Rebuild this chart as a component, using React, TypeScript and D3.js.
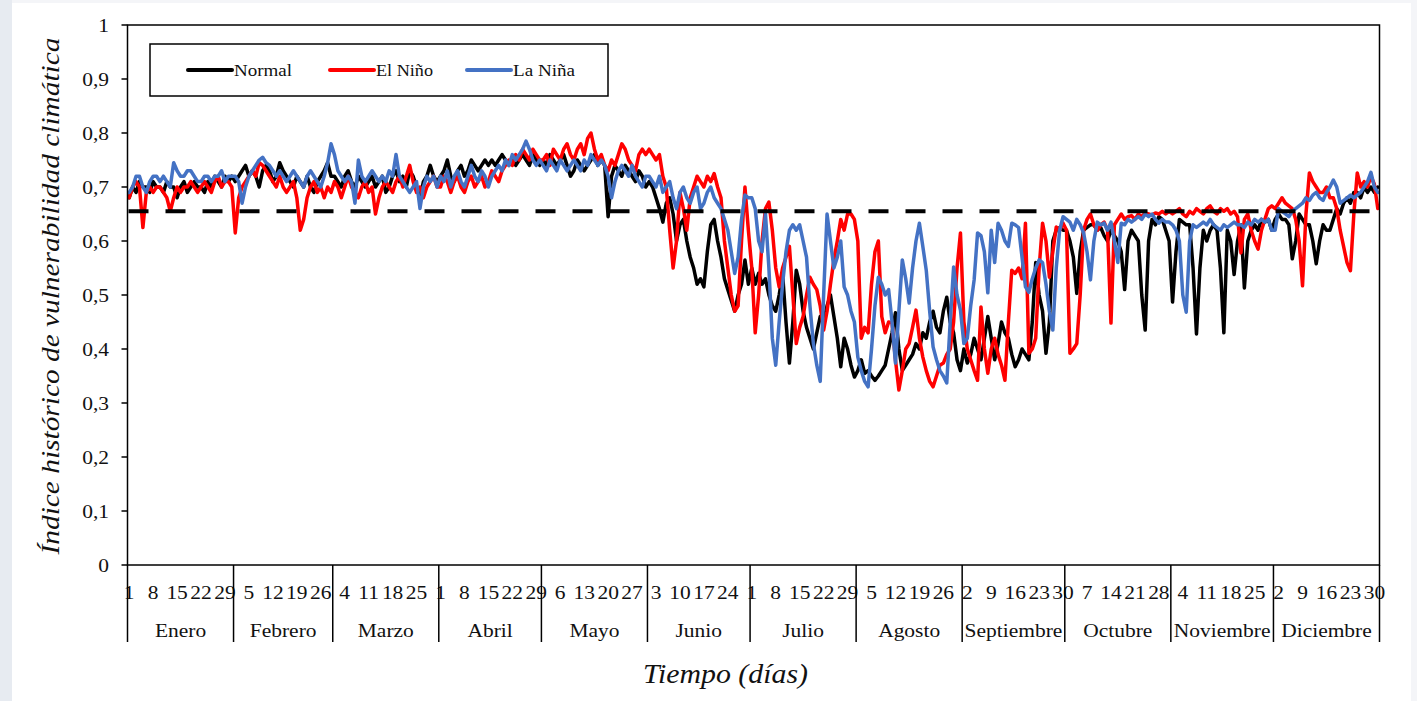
import React from "react";
import * as d3 from "d3";

const months = ["Enero","Febrero","Marzo","Abril","Mayo","Junio","Julio","Agosto","Septiembre","Octubre","Noviembre","Diciembre"];
const monthDays = [31,29,31,30,31,30,31,31,30,31,30,31];
const yTicks = [0,0.1,0.2,0.3,0.4,0.5,0.6,0.7,0.8,0.9,1];
const threshold = 0.655;

const normal: number[][] = [
  [0.68,0.70,0.69,0.71,0.70,0.70,0.69,0.71,0.70,0.70,0.69,0.71,0.70,0.70,0.68,0.70,0.71,0.69,0.70,0.71,0.70,0.70,0.69,0.71,0.70,0.72,0.71,0.70,0.72,0.71,0.72],
  [0.71,0.72,0.73,0.74,0.72,0.73,0.72,0.70,0.73,0.74,0.73,0.71,0.72,0.745,0.73,0.72,0.71,0.70,0.72,0.71,0.70,0.72,0.70,0.69,0.71,0.72,0.73,0.745,0.72],
  [0.72,0.71,0.70,0.72,0.73,0.71,0.70,0.72,0.71,0.70,0.71,0.72,0.70,0.71,0.72,0.69,0.70,0.72,0.73,0.71,0.72,0.70,0.73,0.72,0.70,0.68,0.71,0.72,0.74,0.72,0.71],
  [0.72,0.73,0.75,0.72,0.71,0.73,0.74,0.72,0.73,0.75,0.74,0.73,0.74,0.75,0.74,0.75,0.74,0.75,0.76,0.75,0.74,0.75,0.74,0.75,0.76,0.75,0.74,0.76,0.75,0.74],
  [0.75,0.74,0.76,0.75,0.74,0.75,0.76,0.74,0.72,0.73,0.75,0.74,0.73,0.74,0.75,0.76,0.74,0.75,0.74,0.645,0.72,0.74,0.73,0.72,0.74,0.73,0.72,0.71,0.73,0.72,0.70],
  [0.71,0.70,0.68,0.66,0.635,0.67,0.68,0.65,0.60,0.63,0.64,0.60,0.57,0.55,0.52,0.53,0.515,0.58,0.63,0.64,0.60,0.57,0.53,0.51,0.49,0.47,0.50,0.52,0.565,0.52],
  [0.55,0.52,0.54,0.52,0.53,0.50,0.48,0.47,0.50,0.54,0.45,0.374,0.45,0.546,0.52,0.47,0.44,0.42,0.40,0.43,0.46,0.45,0.48,0.50,0.46,0.42,0.367,0.42,0.40,0.37,0.348],
  [0.36,0.38,0.355,0.36,0.35,0.342,0.35,0.36,0.37,0.40,0.43,0.467,0.40,0.36,0.37,0.38,0.39,0.41,0.40,0.43,0.42,0.45,0.47,0.44,0.43,0.47,0.496,0.45,0.43,0.38,0.36],
  [0.40,0.374,0.39,0.42,0.40,0.38,0.42,0.46,0.42,0.38,0.41,0.45,0.43,0.42,0.39,0.367,0.38,0.40,0.39,0.38,0.45,0.56,0.50,0.47,0.392,0.45,0.60,0.62,0.625,0.62],
  [0.62,0.60,0.57,0.503,0.58,0.62,0.625,0.63,0.63,0.62,0.625,0.61,0.60,0.62,0.61,0.60,0.58,0.51,0.60,0.62,0.61,0.60,0.50,0.435,0.60,0.64,0.63,0.645,0.64,0.62,0.60],
  [0.487,0.58,0.64,0.635,0.63,0.63,0.55,0.428,0.55,0.62,0.60,0.62,0.63,0.62,0.55,0.43,0.62,0.60,0.538,0.60,0.63,0.513,0.60,0.62,0.63,0.62,0.64,0.635,0.64,0.62],
  [0.64,0.65,0.64,0.64,0.63,0.567,0.60,0.65,0.64,0.63,0.63,0.60,0.558,0.60,0.63,0.62,0.62,0.64,0.66,0.65,0.67,0.68,0.67,0.69,0.69,0.68,0.70,0.69,0.70,0.69,0.70],
];

const elNino: number[][] = [
  [0.68,0.70,0.71,0.70,0.625,0.69,0.70,0.69,0.70,0.70,0.69,0.68,0.655,0.68,0.70,0.69,0.70,0.70,0.71,0.70,0.69,0.70,0.71,0.70,0.69,0.71,0.72,0.70,0.71,0.71,0.70],
  [0.615,0.68,0.70,0.71,0.72,0.73,0.72,0.745,0.74,0.73,0.72,0.71,0.70,0.72,0.70,0.69,0.70,0.71,0.68,0.62,0.64,0.68,0.70,0.71,0.69,0.70,0.68,0.70,0.69],
  [0.71,0.70,0.68,0.70,0.72,0.70,0.69,0.68,0.70,0.71,0.69,0.70,0.65,0.68,0.70,0.71,0.70,0.69,0.71,0.72,0.70,0.72,0.74,0.71,0.69,0.70,0.68,0.70,0.71,0.72,0.70],
  [0.70,0.72,0.71,0.69,0.71,0.72,0.70,0.69,0.71,0.72,0.70,0.71,0.72,0.70,0.71,0.73,0.72,0.71,0.73,0.74,0.75,0.74,0.76,0.75,0.77,0.76,0.75,0.77,0.76,0.75],
  [0.75,0.76,0.74,0.77,0.76,0.75,0.77,0.78,0.76,0.75,0.77,0.78,0.76,0.79,0.80,0.77,0.75,0.76,0.74,0.73,0.75,0.74,0.76,0.78,0.77,0.75,0.74,0.73,0.76,0.77,0.76],
  [0.77,0.76,0.75,0.76,0.72,0.70,0.62,0.55,0.60,0.69,0.66,0.62,0.68,0.70,0.72,0.71,0.70,0.72,0.71,0.725,0.70,0.68,0.60,0.55,0.50,0.47,0.48,0.60,0.70,0.62],
  [0.55,0.43,0.50,0.60,0.66,0.672,0.62,0.55,0.515,0.55,0.57,0.59,0.50,0.41,0.44,0.46,0.50,0.533,0.52,0.51,0.48,0.435,0.47,0.52,0.565,0.60,0.64,0.62,0.65,0.65,0.64],
  [0.60,0.42,0.44,0.43,0.52,0.58,0.60,0.46,0.43,0.45,0.448,0.38,0.324,0.36,0.40,0.41,0.44,0.472,0.42,0.385,0.36,0.34,0.33,0.35,0.37,0.374,0.39,0.40,0.45,0.55,0.615],
  [0.45,0.40,0.38,0.36,0.342,0.478,0.40,0.355,0.40,0.42,0.39,0.37,0.342,0.45,0.546,0.54,0.55,0.53,0.633,0.392,0.40,0.42,0.55,0.633,0.60,0.533,0.58,0.626,0.62,0.633],
  [0.62,0.392,0.40,0.41,0.50,0.62,0.64,0.65,0.63,0.62,0.63,0.635,0.62,0.448,0.63,0.64,0.65,0.64,0.645,0.647,0.64,0.65,0.645,0.652,0.65,0.648,0.652,0.65,0.655,0.65,0.655],
  [0.65,0.655,0.66,0.65,0.645,0.655,0.65,0.66,0.655,0.65,0.66,0.665,0.655,0.65,0.66,0.655,0.66,0.65,0.655,0.645,0.578,0.64,0.65,0.62,0.60,0.585,0.62,0.64,0.66,0.665],
  [0.66,0.67,0.68,0.67,0.665,0.66,0.64,0.60,0.517,0.65,0.726,0.71,0.70,0.69,0.69,0.70,0.68,0.68,0.66,0.62,0.59,0.56,0.545,0.65,0.726,0.70,0.71,0.70,0.72,0.705,0.66],
];

const laNina: number[][] = [
  [0.69,0.70,0.72,0.72,0.70,0.69,0.71,0.72,0.72,0.71,0.72,0.71,0.70,0.745,0.73,0.72,0.72,0.73,0.73,0.72,0.71,0.71,0.72,0.72,0.71,0.72,0.72,0.73,0.71,0.72,0.72],
  [0.72,0.71,0.67,0.70,0.72,0.73,0.74,0.75,0.755,0.745,0.74,0.73,0.72,0.73,0.72,0.71,0.72,0.73,0.72,0.71,0.70,0.72,0.73,0.72,0.71,0.70,0.72,0.745,0.78],
  [0.76,0.73,0.72,0.71,0.72,0.71,0.67,0.75,0.72,0.71,0.72,0.73,0.72,0.71,0.72,0.71,0.73,0.72,0.76,0.72,0.71,0.70,0.69,0.70,0.71,0.66,0.70,0.72,0.71,0.72,0.70],
  [0.72,0.71,0.73,0.70,0.72,0.73,0.71,0.70,0.72,0.74,0.72,0.71,0.73,0.72,0.70,0.72,0.73,0.74,0.73,0.75,0.74,0.76,0.75,0.76,0.77,0.785,0.77,0.75,0.74,0.75],
  [0.74,0.73,0.75,0.74,0.73,0.75,0.74,0.73,0.74,0.75,0.74,0.73,0.75,0.74,0.76,0.75,0.74,0.75,0.74,0.72,0.68,0.71,0.73,0.74,0.73,0.72,0.74,0.72,0.71,0.70,0.72],
  [0.72,0.71,0.70,0.72,0.69,0.70,0.71,0.68,0.66,0.69,0.70,0.68,0.67,0.69,0.70,0.66,0.67,0.69,0.70,0.68,0.67,0.66,0.64,0.62,0.58,0.54,0.57,0.64,0.685,0.68],
  [0.68,0.66,0.60,0.58,0.65,0.55,0.42,0.37,0.45,0.52,0.58,0.62,0.63,0.62,0.63,0.60,0.57,0.48,0.41,0.37,0.34,0.50,0.65,0.60,0.55,0.57,0.60,0.515,0.50,0.47,0.45],
  [0.385,0.36,0.34,0.33,0.40,0.48,0.533,0.52,0.50,0.51,0.45,0.374,0.47,0.565,0.53,0.485,0.55,0.60,0.633,0.59,0.546,0.47,0.404,0.38,0.36,0.35,0.337,0.45,0.552,0.50,0.472],
  [0.41,0.42,0.48,0.528,0.615,0.61,0.58,0.504,0.62,0.56,0.633,0.62,0.60,0.59,0.633,0.63,0.625,0.57,0.515,0.505,0.53,0.55,0.565,0.56,0.52,0.47,0.435,0.55,0.62,0.645],
  [0.64,0.635,0.62,0.64,0.63,0.615,0.58,0.528,0.60,0.635,0.63,0.633,0.62,0.635,0.60,0.56,0.633,0.63,0.64,0.635,0.64,0.645,0.64,0.65,0.645,0.65,0.64,0.633,0.64,0.635,0.635],
  [0.63,0.62,0.60,0.50,0.468,0.60,0.63,0.625,0.63,0.635,0.63,0.64,0.63,0.625,0.62,0.63,0.625,0.63,0.635,0.63,0.63,0.625,0.635,0.63,0.64,0.635,0.64,0.635,0.64,0.62],
  [0.62,0.66,0.655,0.65,0.645,0.655,0.66,0.665,0.67,0.68,0.675,0.685,0.69,0.68,0.675,0.69,0.70,0.713,0.70,0.67,0.675,0.68,0.685,0.68,0.685,0.69,0.70,0.71,0.727,0.70,0.69],
];

const W = 1417, H = 701;
const left = 127.5, right = 1379.5, top = 25, bottom = 565;
const FONT = "'Liberation Serif', 'Times New Roman', serif";
const SX = 1.13;

function SText(props: { x: number; y: number; anchor?: string; size: number; children: React.ReactNode }) {
  return (
    <text
      transform={`translate(${props.x},${props.y}) scale(${SX},1)`}
      textAnchor={props.anchor || "middle"}
      fontSize={props.size}
      fill="#111"
    >
      {props.children}
    </text>
  );
}

export default function App() {
  const totalDays = d3.sum(monthDays);
  const x = d3.scaleLinear().domain([0, totalDays]).range([left, right]);
  const y = d3.scaleLinear().domain([0, 1]).range([bottom, top]);
  const starts = monthDays.map((_, i) => d3.sum(monthDays.slice(0, i)));

  const series = [
    { name: "Normal", color: "#000000", data: normal.flat() },
    { name: "El Niño", color: "#ff0000", data: elNino.flat() },
    { name: "La Niña", color: "#4472c4", data: laNina.flat() },
  ];
  const line = d3.line<number>().x((_, i) => x(i + 0.5)).y((v) => y(v)).curve(d3.curveLinear);

  const dayTicks: { pos: number; label: string }[] = [];
  let dayIndex = 0;
  months.forEach((_, mi) => {
    for (let d = 1; d <= monthDays[mi]; d++) {
      if (dayIndex % 7 === 0) dayTicks.push({ pos: dayIndex + 0.5, label: String(d) });
      dayIndex++;
    }
  });

  const legendItems = [
    { name: "Normal", color: "#000000", x0: 188, tl: 58 },
    { name: "El Niño", color: "#ff0000", x0: 330, tl: 57 },
    { name: "La Niña", color: "#4472c4", x0: 467, tl: 62 },
  ];

  return (
    <svg width={W} height={H} style={{ position: "absolute", left: 0, top: 0 }} fontFamily={FONT}>
      <rect x={0} y={0} width={W} height={H} fill="#f4f5f8" />
      <rect x={0} y={0} width={12} height={H} fill="#e7ebf1" />
      <rect x={12} y={3} width={1399} height={H - 3} fill="#ffffff" />

      {yTicks.map((t) => (
        <g key={t}>
          <line x1={left - 6} x2={left} y1={y(t)} y2={y(t)} stroke="#000" strokeWidth={1.5} />
          <SText x={109} y={y(t) + 6.5} anchor="end" size={19}>
            {String(t).replace(".", ",")}
          </SText>
        </g>
      ))}

      {series.map((s) => (
        <path key={s.name} d={line(s.data) || ""} fill="none" stroke={s.color} strokeWidth={3.5} strokeLinejoin="round" strokeLinecap="round" />
      ))}

      <line x1={left + 1} x2={right} y1={y(threshold)} y2={y(threshold)} stroke="#000" strokeWidth={4} strokeDasharray="20 17" />

      <rect x={left} y={top} width={right - left} height={bottom - top} fill="none" stroke="#000" strokeWidth={1.5} />

      {dayTicks.map((t, i) => (
        <SText key={i} x={x(t.pos)} y={599} size={19}>{t.label}</SText>
      ))}

      {[...starts, totalDays].map((s, i) => (
        <line key={"sep" + i} x1={x(s)} x2={x(s)} y1={bottom} y2={642} stroke="#000" strokeWidth={1.5} />
      ))}
      {months.map((m, i) => (
        <SText key={m} x={x(starts[i] + monthDays[i] / 2)} y={637} size={19}>{m}</SText>
      ))}

      <text x={725.5} y={683} textAnchor="middle" fontSize={27} fontStyle="italic" fill="#111" textLength={165} lengthAdjust="spacingAndGlyphs">Tiempo (días)</text>
      <text transform={`translate(59, 296) rotate(-90)`} textAnchor="middle" fontSize={26} fontStyle="italic" fill="#111" textLength={517} lengthAdjust="spacingAndGlyphs">
        Índice histórico de vulnerabilidad climática
      </text>

      <rect x={150} y={44} width={458} height={52} fill="#fff" stroke="#000" strokeWidth={1.5} />
      {legendItems.map((l) => (
        <g key={l.name}>
          <line x1={l.x0} x2={l.x0 + 44} y1={70} y2={70} stroke={l.color} strokeWidth={4} strokeLinecap="round" />
          <text x={l.x0 + 46} y={76} fontSize={17.5} fill="#111" textLength={l.tl} lengthAdjust="spacingAndGlyphs">{l.name}</text>
        </g>
      ))}
    </svg>
  );
}
